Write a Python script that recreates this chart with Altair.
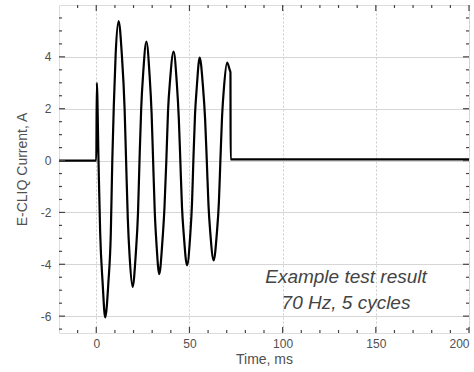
import altair as alt
import pandas as pd

# Waveform readings (time in ms, current in A)
t_ms = [-20, 0, 0.3, 1.2, 2.1, 3.4, 4.8, 6.5, 7.8, 8.6, 9.4, 10.4, 12.0, 13.7, 15.2,
        16.0, 16.9, 17.9, 19.5, 21.2, 22.4, 23.2, 24.1, 25.2, 26.9, 28.6, 29.7,
        30.5, 31.4, 32.3, 33.8, 35.4, 36.6, 37.6, 38.5, 39.6, 41.5, 43.2, 44.3,
        45.1, 46.0, 47.0, 48.7, 50.4, 51.4, 52.1, 53.0, 53.9, 55.5, 57.2, 58.4,
        59.3, 60.2, 61.2, 63.0, 64.7, 65.8, 66.6, 67.5, 68.5, 70.2, 71.6, 72.0,
        72.1, 200]
current_a = [0, 0, 3.0, 0, -2.8, -4.7, -6.05, -4.7, -2.8, 0, 2.1, 4.1, 5.38, 4.1, 2.0,
             0, -2.2, -3.7, -4.87, -3.6, -2.0, 0, 2.0, 3.4, 4.59, 3.3, 1.8,
             0, -2.0, -3.2, -4.38, -3.2, -1.8, 0, 1.9, 3.1, 4.2, 3.0, 1.6,
             0, -1.8, -2.9, -4.04, -2.9, -1.6, 0, 1.8, 2.8, 3.97, 2.9, 1.6,
             0, -1.7, -2.8, -3.85, -2.8, -1.6, 0, 1.7, 2.8, 3.78, 3.5, 3.4,
             0.05, 0.05]

x_major = [0, 50, 100, 150, 200]
x_minor = [-10, 10, 20, 30, 40, 60, 70, 80, 90, 110, 120, 130, 140, 160, 170, 180, 190]
y_major = [-6, -4, -2, 0, 2, 4]
y_minor = [-6.5, -5.5, -5, -4.5, -3.5, -3, -2.5, -1.5, -1, -0.5, 0.5, 1, 1.5,
           2.5, 3, 3.5, 4.5, 5, 5.5]
note_lines = ["Example test result", "70 Hz, 5 cycles"]

X_MIN, X_MAX = -20, 200
Y_MIN, Y_MAX = -6.65, 6
W, H = 410, 328
XU = (X_MAX - X_MIN) / W   # data units per pixel
YU = (Y_MAX - Y_MIN) / H

df = pd.DataFrame({"t": t_ms, "i": current_a})
xs = alt.Scale(domain=[X_MIN, X_MAX], nice=False, zero=False)
ys = alt.Scale(domain=[Y_MIN, Y_MAX], nice=False, zero=False)

FONT = "Liberation Sans"
LABEL_COL = "#505050"
TICK_COL = "#444444"

x_axis = alt.Axis(values=x_major, ticks=False, domain=False, labelColor=LABEL_COL,
                  labelFont=FONT, labelFontSize=12, labelPadding=5,
                  title="Time, ms", titleFont=FONT, titleFontSize=14,
                  titleFontWeight="normal", titleColor=LABEL_COL, titlePadding=3,
                  grid=True, gridColor="#cccccc", gridDash=[2, 2], gridWidth=1)
y_axis = alt.Axis(values=y_major, ticks=False, domain=False, labelColor=LABEL_COL,
                  labelFont=FONT, labelFontSize=12, labelPadding=8,
                  labelExpr="datum.value < 0 ? '-' + abs(datum.value) : '' + datum.value",
                  title="E-CLIQ Current, A", titleFont=FONT, titleFontSize=14,
                  titleFontWeight="normal", titleColor=LABEL_COL, titlePadding=11,
                  grid=True, gridColor="#d6d6d6", gridWidth=1)

line = alt.Chart(df).mark_line(color="black", strokeWidth=2.2, interpolate="monotone").encode(
    x=alt.X("t:Q", scale=xs, axis=x_axis),
    y=alt.Y("i:Q", scale=ys, axis=y_axis),
)

def xticks(vals, y0, y1):
    return alt.Chart(pd.DataFrame({"t": vals})).mark_rule(
        color=TICK_COL, strokeWidth=1.2
    ).encode(x=alt.X("t:Q", scale=xs), y=alt.datum(y0), y2=alt.datum(y1))

def yticks(vals, x0, x1):
    return alt.Chart(pd.DataFrame({"i": vals})).mark_rule(
        color=TICK_COL, strokeWidth=1.2
    ).encode(y=alt.Y("i:Q", scale=ys), x=alt.datum(x0), x2=alt.datum(x1))

MAJ, MIN = 6, 3
ticks = [
    xticks(x_major, Y_MIN, Y_MIN + MAJ * YU), xticks(x_minor, Y_MIN, Y_MIN + MIN * YU),
    xticks(x_major, Y_MAX, Y_MAX - MAJ * YU), xticks(x_minor, Y_MAX, Y_MAX - MIN * YU),
    yticks(y_major, X_MIN, X_MIN + MAJ * XU), yticks(y_minor, X_MIN, X_MIN + MIN * XU),
    yticks(y_major, X_MAX, X_MAX - MAJ * XU), yticks(y_minor, X_MAX, X_MAX - MIN * XU),
]

note = alt.Chart(pd.DataFrame({"t": [134], "i": [-4.48]})).mark_text(
    text=note_lines, font=FONT, fontSize=19, fontStyle="italic", color="#444444",
    align="center", baseline="middle", lineHeight=26
).encode(x=alt.X("t:Q", scale=xs), y=alt.Y("i:Q", scale=ys))

chart = alt.layer(line, *ticks, note).properties(
    width=W, height=H, autosize="none",
    padding={"left": 59, "top": 5, "right": 5, "bottom": 39},
).configure_view(stroke="#444444", strokeWidth=1.6).configure(background="white")

chart.save("out.html", embed_options={"renderer": "svg", "actions": False})
